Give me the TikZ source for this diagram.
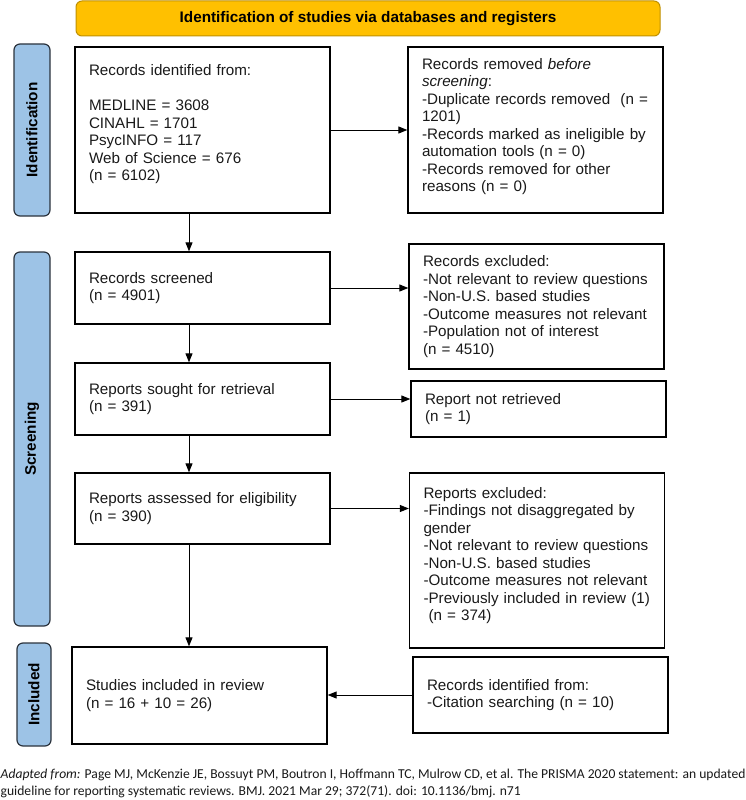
\documentclass[tikz,border=0pt]{standalone}
\usepackage{fontspec}
\setmainfont{Liberation Sans}
\newfontfamily\notefont{Carlito}
\usetikzlibrary{positioning,arrows.meta}
\definecolor{headfill}{HTML}{FFC000}
\definecolor{headdraw}{HTML}{BF9000}
\definecolor{barfill}{HTML}{9DC3E6}
\definecolor{bardraw}{HTML}{2B333D}

\begin{document}
\begin{tikzpicture}[x=1pt,y=-1pt,
        % define styles
        head/.style={
            draw=headdraw,
            fill=headfill,
            rounded corners=6pt,
            line width=1pt,
            minimum width=584pt,
            minimum height=35pt,
            font=\bfseries\fontsize{15.3}{18}\selectfont
        },
        phase/.style={
            draw=bardraw,
            fill=barfill,
            rounded corners=6pt,
            line width=1.2pt,
            rotate=90,
            minimum height=36pt,
            font=\bfseries\fontsize{15.3}{18}\selectfont
        },
        box/.style={
            draw,
            line width=1.3pt,
            minimum width=255pt,
            text width=227pt,
            inner xsep=14pt,
            inner ysep=3pt,
            align=left,
            text=black!90,
            font=\fontsize{15.2}{17.5}\selectfont
        },
        arr/.style={
            -{Triangle[length=9pt,width=7pt]},
            line width=0.9pt
        }
    ]
        \useasboundingbox (0,0) rectangle (746,800);

        % top banner
        \node[head] at (368,18.5) (title) {Identification of studies via databases and registers};

        % phase bars on the left
        \node[phase,minimum width=172pt] at (32,130) (idbar) {Identification};
        \node[phase,minimum width=374pt] at (32,439) (scbar) {Screening};
        \node[phase,minimum width=103pt,minimum height=34pt] at (34,694.5) (inbar) {Included};

        % main column
        \node[box,minimum height=166pt] at (202.5,130) (ident) {Records identified from:\\[17.5pt]
            MEDLINE = 3608\\CINAHL = 1701\\PsycINFO = 117\\Web of Science = 676\\(n = 6102)\rule[-15pt]{0pt}{0pt}};
        \node[box,minimum height=72pt] at (202.5,288) (screened) {Records screened\\(n = 4901)};
        \node[box,minimum height=72pt] at (202.5,399) (sought) {Reports sought for retrieval\\(n = 391)};
        \node[box,minimum height=71pt] at (202.5,508.5) (assessed) {Reports assessed for eligibility\\(n = 390)};
        \node[box,minimum height=97pt] at (199.5,695.5) (studies) {Studies included in review\\(n = 16 + 10 = 26)};

        % side column
        \node[box,minimum height=166pt] at (535.5,130) (removed) {Records removed \emph{before}\\\emph{screening}:\\
            -Duplicate records removed\ \ (n =\\1201)\\-Records marked as ineligible by\\automation tools (n = 0)\\
            -Records removed for other\\reasons (n = 0)\rule[-10pt]{0pt}{0pt}};
        \node[box,minimum height=125pt] at (536.5,306.5) (excluded) {Records excluded:\\-Not relevant to review questions\\
            -Non-U.S. based studies\\-Outcome measures not relevant\\-Population not of interest\\(n = 4510)};
        \node[box,minimum height=56pt] at (538.5,409) (notret) {Report not retrieved\\(n = 1)};
        \node[box,minimum height=175pt] at (537,560.5) (repexcl) {Reports excluded:\\-Findings not disaggregated by\\gender\\
            -Not relevant to review questions\\-Non-U.S. based studies\\-Outcome measures not relevant\\
            -Previously included in review (1)\\\ (n = 374)\rule[-13pt]{0pt}{0pt}};
        \node[box,minimum height=76pt] at (540.5,695) (citing) {Records identified from:\\-Citation searching (n = 10)};

        % source note
        \node[anchor=north west,align=left,inner sep=0pt,text=black!90,
            font=\notefont\fontsize{13.6}{17}\selectfont] at (0.5,769) (source)
            {\textit{Adapted from:} Page MJ, McKenzie JE, Bossuyt PM, Boutron I, Hoffmann TC, Mulrow CD, et al. The PRISMA 2020 statement: an updated\\
            guideline for reporting systematic reviews. BMJ. 2021 Mar 29; 372(71). doi: 10.1136/bmj. n71};

        \path[arr] ([xshift=-13.5pt]ident.south) edge ([xshift=-13.5pt]screened.north)
        ([xshift=-13.5pt]screened.south) edge ([xshift=-13.5pt]sought.north)
        ([xshift=-13.5pt]sought.south) edge ([xshift=-13.5pt]assessed.north)
        ([xshift=-13.5pt]assessed.south) edge ([xshift=-13.5pt]assessed.south |- studies.north)
        (ident) edge (removed)
        (screened.east) edge (screened.east -| excluded.west)
        (sought.east) edge (sought.east -| notret.west)
        (assessed.east) edge (assessed.east -| repexcl.west)
        (citing.west) edge (citing.west -| studies.east);
    \end{tikzpicture}
\end{document}
